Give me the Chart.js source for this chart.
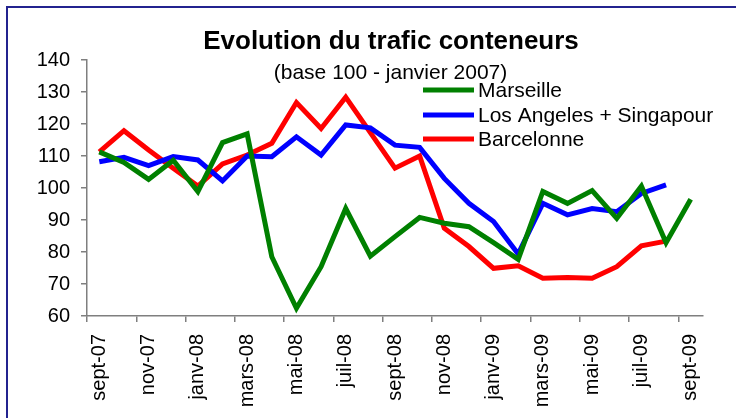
<!DOCTYPE html>
<html>
<head>
<meta charset="utf-8">
<script src="https://cdn.jsdelivr.net/npm/chart.js@4"></script>
<style>
  html, body { margin: 0; padding: 0; background: #ffffff; }
  #wrap { width: 736px; height: 418px; position: relative; }
</style>
</head>
<body>
<div id="wrap"><canvas id="c" width="736" height="418"></canvas></div>
<script>
const months = ["sept-07","oct-07","nov-07","déc-07","janv-08","févr-08","mars-08","avr-08","mai-08","juin-08","juil-08","août-08","sept-08","oct-08","nov-08","déc-08","janv-09","févr-09","mars-09","avr-09","mai-09","juin-09","juil-09","août-09","sept-09"];
const marseille = [111.3,108,102.7,108.7,98.9,114.2,116.9,78.5,62.4,75.4,93.6,78.7,84.8,90.8,89,87.9,82.9,77.7,98.9,95.2,99.2,90.5,100.6,82.9,96.5];
const losAngelesSingapour = [108.2,109.6,107,109.8,108.75,102.2,110,109.8,116,110.3,119.7,118.8,113.4,112.7,103,95.2,89.5,79.4,95.2,91.6,93.6,92.6,98.3,101,null];
const barcelonne = [111.3,117.9,111.9,106.2,100.6,107.5,110.3,114,126.7,118.6,128.4,117.3,106.2,110,87.4,81.7,74.9,75.7,71.8,72,71.8,75.4,81.9,83.4,null];
const seriesNames = ["Marseille","Los Angeles + Singapour","Barcelonne"];
const titleText = "Evolution du trafic conteneurs";
const subtitleText = "(base 100 - janvier 2007)";
const yMin = 60, yMax = 140, yStep = 10;

const FONT = '"Liberation Sans", Arial, sans-serif';
const AXIS = '#7f7f7f';

const deco = {
  id: 'deco',
  beforeDraw(chart) {
    const ctx = chart.ctx;
    ctx.save();
    ctx.fillStyle = '#ffffff';
    ctx.fillRect(0, 0, chart.width, chart.height);
    ctx.strokeStyle = '#23238f';
    ctx.lineWidth = 2;
    ctx.beginPath();
    ctx.moveTo(7, 418);
    ctx.lineTo(7, 7);
    ctx.lineTo(736, 7);
    ctx.stroke();
    ctx.restore();
  },
  afterDraw(chart) {
    const ctx = chart.ctx;
    ctx.save();
    ctx.fillStyle = '#000000';
    ctx.textAlign = 'center';
    ctx.textBaseline = 'middle';
    ctx.font = 'bold 26px ' + FONT;
    ctx.fillText(titleText, 391, 42);
    ctx.font = '21px ' + FONT;
    ctx.fillText(subtitleText, 390.5, 73);
    // legend
    const rows = [90, 115, 139];
    ctx.textAlign = 'left';
    chart.data.datasets.forEach((ds, i) => {
      ctx.strokeStyle = ds.borderColor;
      ctx.lineWidth = 5;
      ctx.lineCap = 'butt';
      ctx.beginPath();
      ctx.moveTo(423, rows[i]);
      ctx.lineTo(474, rows[i]);
      ctx.stroke();
      ctx.fillStyle = '#000000';
      ctx.font = '21px ' + FONT;
      ctx.fillText(ds.label, 478, rows[i] + 1);
    });
    ctx.restore();
  }
};

new Chart(document.getElementById('c'), {
  type: 'line',
  data: {
    labels: months,
    datasets: [
      { label: seriesNames[0], data: marseille, borderColor: '#008000', backgroundColor: '#008000' },
      { label: seriesNames[1], data: losAngelesSingapour, borderColor: '#0000ff', backgroundColor: '#0000ff' },
      { label: seriesNames[2], data: barcelonne, borderColor: '#ff0000', backgroundColor: '#ff0000' }
    ]
  },
  options: {
    responsive: false,
    animation: false,
    devicePixelRatio: 1,
    layout: { padding: { top: 60, right: 33, bottom: 0, left: 0 } },
    elements: {
      line: { borderWidth: 5, tension: 0, borderJoinStyle: 'miter' },
      point: { radius: 0, hoverRadius: 0 }
    },
    plugins: {
      legend: { display: false },
      title: { display: false },
      tooltip: { enabled: false }
    },
    scales: {
      x: {
        type: 'category',
        offset: true,
        afterFit: (s) => { s.height = 102; },
        border: { display: true, color: AXIS, width: 1.5 },
        grid: {
          offset: true,
          drawOnChartArea: false,
          drawTicks: true,
          tickLength: 6,
          tickColor: (c) => (c.index !== undefined && c.index % 2 === 0) ? AXIS : 'rgba(0,0,0,0)',
          lineWidth: 1.5
        },
        ticks: {
          autoSkip: false,
          minRotation: 90,
          maxRotation: 90,
          padding: 12,
          color: '#000000',
          font: { family: FONT, size: 20 },
          callback: function(v, i) { return i % 2 === 0 ? this.getLabelForValue(v) : ''; }
        }
      },
      y: {
        min: yMin,
        max: yMax,
        afterFit: (s) => { s.width = 87; },
        border: { display: true, color: AXIS, width: 1.5 },
        grid: {
          drawOnChartArea: false,
          drawTicks: true,
          tickLength: 6,
          tickColor: AXIS,
          lineWidth: 1.5
        },
        ticks: {
          stepSize: yStep,
          padding: 11,
          color: '#000000',
          font: { family: FONT, size: 20 }
        }
      }
    }
  },
  plugins: [deco]
});
</script>
</body>
</html>
